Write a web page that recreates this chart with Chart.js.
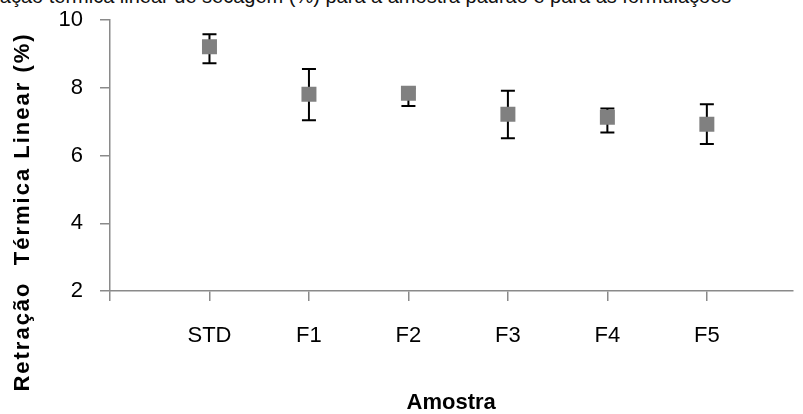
<!DOCTYPE html>
<html>
<head>
<meta charset="utf-8">
<script src="https://cdn.jsdelivr.net/npm/chart.js@4.4.1/dist/chart.umd.min.js"></script>
<style>
  body { margin: 0; background: #fff; }
  #wrap { position: relative; width: 803px; height: 414px; overflow: hidden; }
  #caption { position: absolute; left: -38px; top: -14px; white-space: nowrap;
             font: 20px/20px "Liberation Sans", Arial, sans-serif; color: #111; }
  canvas { position: absolute; left: 0; top: 0; }
</style>
</head>
<body>
<div id="wrap">
  <div id="caption">Retração térmica linear de secagem (%) para a amostra padrão e para as formulações</div>
  <canvas id="chart" width="803" height="414"></canvas>
</div>
<script>
const categories = ['STD', 'F1', 'F2', 'F3', 'F4', 'F5'];
const means = [9.21, 7.81, 7.84, 7.22, 7.13, 6.92];
const upper = [9.58, 8.55, 7.98, 7.91, 7.39, 7.51];
const lower = [8.72, 7.04, 7.46, 6.51, 6.68, 6.34];
const yTicks = [2, 4, 6, 8, 10];

const fontFam = '"Liberation Sans", Arial, sans-serif';
const axisGray = '#8a8a8a';

// category i sits at x = i + 1, x = 0 is the y axis
const points = means.map((v, i) => ({x: i + 1, y: v}));

const errorBars = {
    id: 'errorBars',
    beforeDatasetsDraw(chart) {
        const ctx = chart.ctx;
        const xs = chart.scales.x;
        const ys = chart.scales.y;
        ctx.save();
        ctx.strokeStyle = '#000';
        ctx.lineWidth = 2;
        means.forEach((v, i) => {
            const x = xs.getPixelForValue(i + 1);
            const yHi = ys.getPixelForValue(upper[i]);
            const yLo = ys.getPixelForValue(lower[i]);
            ctx.beginPath();
            ctx.moveTo(x, yHi);
            ctx.lineTo(x, yLo);
            ctx.moveTo(x - 7, yHi);
            ctx.lineTo(x + 7, yHi);
            ctx.moveTo(x - 7, yLo);
            ctx.lineTo(x + 7, yLo);
            ctx.stroke();
        });
        ctx.restore();
    }
};

const yTitle = {
    id: 'yTitle',
    afterDraw(chart) {
        const ctx = chart.ctx;
        ctx.save();
        ctx.translate(23, 212);
        ctx.rotate(-Math.PI / 2);
        ctx.font = 'bold 22px ' + fontFam;
        ctx.letterSpacing = '2px';
        ctx.fillStyle = '#000';
        ctx.textAlign = 'center';
        ctx.textBaseline = 'middle';
        ctx.fillText('Retração  Térmica Linear (%)', 0, 0);
        ctx.restore();
    }
};

new Chart(document.getElementById('chart'), {
    type: 'scatter',
    data: {
        datasets: [{
            label: 'Retração',
            data: points,
            pointStyle: 'rect',
            pointRadius: 10.6,
            pointHoverRadius: 10.6,
            pointBackgroundColor: '#808080',
            pointBorderColor: '#808080',
            pointBorderWidth: 0,
            showLine: false
        }]
    },
    options: {
        responsive: false,
        animation: false,
        devicePixelRatio: 1,
        layout: {padding: {top: 20, right: 0, bottom: 0, left: 0}},
        plugins: {legend: {display: false}, tooltip: {enabled: false}},
        scales: {
            x: {
                type: 'linear',
                min: 0,
                max: 6.86,
                afterFit(scale) { scale.height = 123; },
                afterBuildTicks(scale) {
                    scale.ticks = [{value: 0}].concat(categories.map((c, i) => ({value: i + 1})));
                },
                grid: {drawOnChartArea: false, drawTicks: true, tickLength: 10, color: axisGray, lineWidth: 1.5},
                border: {color: axisGray, width: 1.5},
                ticks: {
                    padding: 22,
                    color: '#000',
                    font: {family: fontFam, size: 22},
                    maxRotation: 0,
                    callback: v => categories[v - 1] || ''
                },
                title: {
                    display: true,
                    text: 'Amostra',
                    color: '#000',
                    font: {family: fontFam, size: 22, weight: 'bold', lineHeight: 1},
                    padding: {top: 0, bottom: 0}
                }
            },
            y: {
                min: 2,
                max: 10,
                afterFit(scale) {
                    scale.width = 110;
                    scale.paddingTop = 0;
                    scale.paddingBottom = 0;
                },
                afterBuildTicks(scale) { scale.ticks = yTicks.map(v => ({value: v})); },
                grid: {drawOnChartArea: false, drawTicks: true, tickLength: 10, color: axisGray, lineWidth: 1.5},
                border: {color: axisGray, width: 1.5},
                ticks: {
                    padding: 17,
                    color: '#000',
                    font: {family: fontFam, size: 22}
                }
            }
        }
    },
    plugins: [errorBars, yTitle]
});
</script>
</body>
</html>
